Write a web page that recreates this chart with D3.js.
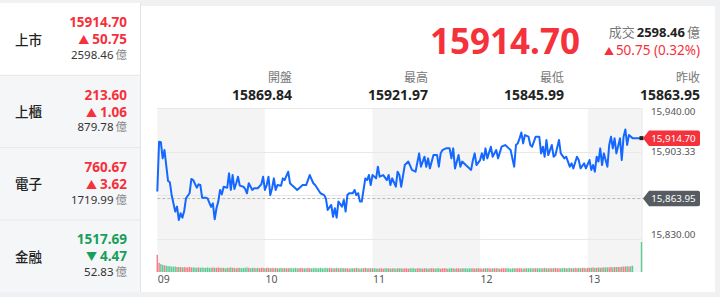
<!DOCTYPE html>
<html>
<head>
<meta charset="utf-8">
<script src="https://cdn.jsdelivr.net/npm/d3@7"></script>
<style>
  body { margin: 0; background: #f0f1f3; }
  svg { display: block; font-family: "Noto Sans", "Noto Sans CJK TC", sans-serif; }
</style>
</head>
<body>
<div id="chart"></div>
<script>
var W = 720, H = 297;
var RED = "#f5313b", GREEN = "#18a05a";

// 左側指數列表
var boardNames = ["上市", "上櫃", "電子", "金融"];
var boardPrices = ["15914.70", "213.60", "760.67", "1517.69"];
var boardChanges = ["50.75", "1.06", "3.62", "4.47"];
var boardUp = [true, true, true, false];
var boardAmounts = ["2598.46", "879.78", "1719.99", "52.83"];

// 上方數值
var lastPrice = 15914.70, prevClose = 15863.95;
var statLabels = ["開盤", "最高", "最低", "昨收"];
var statValues = ["15869.84", "15921.97", "15845.99", "15863.95"];

// 走勢 (09:00 起算分鐘)
var minutes = [0,1,2,3,4,6,7,8,10,11,12,13,14,15,16,18,19,20,22,23,24,25,27,28,30,31,32,33,34,35,
  36,37,39,40,41,42,43,44,45,46,48,49,50,51,53,54,56,58,59,60,61,62,63,64,65,66,67,69,70,71,
  73,74,75,77,78,80,81,83,85,87,88,91,93,94,95,97,98,99,100,101,103,104,105,106,107,109,110,111,112,113,
  114,116,117,118,119,120,122,123,124,126,128,129,130,131,133,134,135,136,138,140,142,144,146,147,149,150,151,152,154,156,
  157,158,159,161,163,164,165,166,168,169,170,172,175,176,177,178,180,181,182,183,184,186,187,189,190,192,194,196,197,199,
  200,201,202,203,204,205,207,208,209,211,213,214,215,216,217,218,220,221,222,224,225,227,228,230,231,232,234,235,236,238,
  239,241,242,243,244,245,246,247,248,249,251,252,253,254,255,256,258,259,260,261,262,263,265,270];
var prices = [15869.84,15911.7,15911.2,15897.7,15904.7,15878.7,15877.6,15867.0,15853.0,15857.2,15845.99,15851.6,15847.9,15853.5,15864.2,15868.4,15880.4,15879.5,15873.1,15875.9,15875.3,15864.7,15864.7,15864.1,15857.0,15859.9,15846.5,15855.8,15861.4,15871.2,
  15867.5,15873.9,15873.1,15885.1,15871.2,15883.7,15872.0,15876.8,15882.3,15874.8,15873.9,15872.0,15868.4,15876.8,15871.2,15872.6,15872.6,15875.9,15882.3,15871.2,15875.3,15882.3,15866.9,15872.6,15880.9,15871.2,15875.3,15874.8,15880.9,15879.5,
  15886.5,15876.8,15875.3,15872.6,15871.2,15873.9,15875.3,15875.3,15883.7,15876.8,15875.3,15868.4,15866.9,15864.1,15854.4,15858.6,15848.7,15855.8,15847.9,15861.4,15857.2,15862.8,15853.0,15866.9,15868.4,15868.4,15871.2,15866.9,15868.4,15861.4,
  15861.4,15880.9,15879.5,15883.7,15875.3,15883.7,15880.9,15890.7,15882.3,15883.7,15879.5,15883.7,15875.3,15880.9,15873.9,15886.5,15883.7,15873.9,15892.1,15895.0,15888.0,15886.5,15901.9,15890.7,15899.1,15890.7,15897.7,15889.3,15900.5,15900.5,
  15890.7,15901.9,15904.7,15906.1,15906.1,15897.7,15906.1,15889.3,15900.5,15890.7,15895.0,15892.1,15888.0,15896.3,15901.9,15892.1,15896.3,15901.9,15896.3,15906.1,15897.7,15907.5,15899.1,15904.7,15897.7,15907.5,15908.9,15906.1,15904.7,15890.7,
  15908.9,15910.3,15914.5,15919.5,15910.3,15917.3,15915.9,15908.9,15907.5,15915.9,15915.9,15901.9,15907.5,15899.1,15913.1,15900.5,15908.9,15899.1,15900.5,15913.1,15901.9,15897.7,15899.1,15890.7,15893.5,15889.3,15899.1,15896.3,15889.3,15893.5,
  15889.3,15896.3,15888.0,15892.1,15886.5,15899.1,15895.0,15906.1,15892.1,15901.9,15890.7,15908.9,15915.9,15906.1,15914.5,15901.9,15914.5,15896.3,15915.9,15921.97,15909.0,15917.3,15914.7,15914.70];

// 每分鐘成交量 (億)
var volumes = [41,22,19,17,16,15,14,14,13,13,13,12,12,12,11,12,11,11,12,11,11,11,10,11,10,11,10,10,11,10,
  10,11,10,10,11,10,10,10,9,10,10,11,10,10,9,10,10,9,10,10,11,10,9,10,10,9,10,9,10,10,
  9,10,10,9,10,9,10,9,9,10,9,10,9,9,10,9,9,10,9,9,10,9,9,9,10,9,9,9,10,9,
  9,10,9,9,10,9,10,9,9,9,10,9,9,10,9,9,9,8,9,9,9,10,9,8,9,9,10,9,9,9,
  9,9,9,8,9,9,8,9,9,9,8,9,9,8,9,9,9,8,9,9,8,9,9,9,8,9,9,9,8,9,
  9,8,9,9,9,8,9,9,8,9,9,9,8,9,9,9,8,9,9,8,9,9,9,8,9,9,9,8,9,9,
  9,8,9,9,9,9,8,9,9,9,9,8,9,9,9,9,9,8,9,9,9,9,9,9,8,9,9,9,9,9,
  9,9,9,9,9,9,10,9,9,9,9,9,10,9,9,9,9,10,9,9,10,9,9,10,9,10,9,10,10,9,
  10,10,10,11,10,10,11,10,11,11,11,11,11,12,11,12,12,12,12,13,13,13,14,13,14,15,0,0,0,0,72];

var hourTicks = [0, 60, 120, 180, 240];
var hourLabels = ["09", "10", "11", "12", "13"];
var gridValues = [15940, 15903.33, 15866.67, 15830];
var axisValues = [15940, 15903.33, 15830];

var svg = d3.select("#chart").append("svg")
    .attr("width", W)
    .attr("height", H);

svg.append("rect").attr("width", W).attr("height", H).attr("fill", "#f0f1f3");

// ---------- 左側列表 ----------
var left = svg.append("g");
boardNames.forEach(function(name, i) {
    var top = 3 + i * 72.3;
    var g = left.append("g").attr("transform", "translate(0," + top + ")");
    g.append("rect")
        .attr("width", 140).attr("height", 72)
        .attr("fill", i === 0 ? "#ffffff" : "#f5f6f8");
    var c = boardUp[i] ? RED : GREEN;
    g.append("text").attr("x", 15).attr("y", 37).attr("dy", "0.35em")
        .attr("font-size", "13.5px").attr("font-weight", 500).attr("fill", "#222")
        .text(name);
    g.append("text").attr("x", 127).attr("y", 19.5).attr("dy", "0.35em")
        .attr("text-anchor", "end").attr("font-size", "13.5px").attr("font-weight", "bold")
        .attr("fill", c).text(boardPrices[i]);
    var ch = g.append("text").attr("x", 127).attr("y", 36.5).attr("dy", "0.35em")
        .attr("text-anchor", "end").attr("font-size", "13.5px").attr("font-weight", "bold")
        .attr("fill", c);
    ch.append("tspan").attr("font-size", "11px").text(boardUp[i] ? "▲" : "▼");
    ch.append("tspan").attr("dx", 3).text(boardChanges[i]);
    var am = g.append("text").attr("x", 127).attr("y", 52).attr("dy", "0.35em")
        .attr("text-anchor", "end").attr("font-size", "11.5px");
    am.append("tspan").attr("fill", "#333").text(boardAmounts[i]);
    am.append("tspan").attr("dx", 2).attr("fill", "#888").text("億");
    if (i > 0) {
        g.append("line").attr("x1", 0).attr("x2", 140).attr("y1", 0).attr("y2", 0)
            .attr("stroke", "#e6e8ec");
    }
});
left.append("line").attr("x1", 140.5).attr("x2", 140.5).attr("y1", 3).attr("y2", 292)
    .attr("stroke", "#e3e5e8");

// ---------- 右側卡片 ----------
svg.append("rect").attr("x", 141).attr("y", 6).attr("width", 574).attr("height", 286)
    .attr("fill", "#ffffff");

svg.append("text").attr("x", 580).attr("y", 42).attr("dy", "0.35em")
    .attr("text-anchor", "end").attr("font-size", "35px").attr("font-weight", "bold")
    .attr("fill", RED).text(d3.format(".2f")(lastPrice));

var vol = svg.append("text").attr("x", 700).attr("y", 32.5).attr("dy", "0.35em")
    .attr("text-anchor", "end").attr("font-size", "13px");
vol.append("tspan").attr("fill", "#777").text("成交");
vol.append("tspan").attr("dx", 2).attr("fill", "#222").attr("font-weight", "bold").text(boardAmounts[0]);
vol.append("tspan").attr("dx", 2).attr("fill", "#777").text("億");

var chg = svg.append("text").attr("x", 700).attr("y", 50).attr("dy", "0.35em")
    .attr("text-anchor", "end").attr("font-size", "13.5px").attr("fill", RED);
chg.append("tspan").attr("font-size", "10px").text("▲");
chg.append("tspan").attr("dx", 2).text("50.75 (0.32%)");

var statRight = [292, 428, 564, 700];
statLabels.forEach(function(lbl, i) {
    svg.append("text").attr("x", statRight[i]).attr("y", 77.5).attr("dy", "0.35em")
        .attr("text-anchor", "end").attr("font-size", "12px").attr("fill", "#777").text(lbl);
    svg.append("text").attr("x", statRight[i]).attr("y", 95).attr("dy", "0.35em")
        .attr("text-anchor", "end").attr("font-size", "14px").attr("font-weight", "bold")
        .attr("fill", "#222").text(statValues[i]);
});

// ---------- 走勢圖 ----------
var x = d3.scaleLinear().domain([0, 270]).range([157.3, 641.5]);
var y = d3.scaleLinear().domain([15830, 15940]).range([239, 108]);
var yv = d3.scaleLinear().domain([0, 72]).range([272, 242]);

// 時段底色
hourTicks.forEach(function(t, i) {
    if (i % 2 === 0) {
        svg.append("rect")
            .attr("x", x(t)).attr("y", 108)
            .attr("width", x(Math.min(t + 60, 270)) - x(t)).attr("height", 164)
            .attr("fill", "#f4f4f4");
    }
});

svg.selectAll(".grid").data(gridValues).enter().append("line")
    .attr("class", "grid")
    .attr("x1", x(0)).attr("x2", x(270))
    .attr("y1", function(d) { return Math.round(y(d)) + 0.5; })
    .attr("y2", function(d) { return Math.round(y(d)) + 0.5; })
    .attr("stroke", "#e8e8e8");

svg.append("line").attr("x1", x(270) + 0.5).attr("x2", x(270) + 0.5)
    .attr("y1", 108).attr("y2", 272).attr("stroke", "#e6e6e6");

// 成交量
svg.selectAll(".vbar").data(volumes).enter().append("rect")
    .attr("class", "vbar")
    .attr("x", function(d, m) { return x(m) - 0.7; })
    .attr("width", 1.4)
    .attr("y", function(d) { return yv(d); })
    .attr("height", function(d) { return yv(0) - yv(d); })
    .attr("fill", function(d, m) {
        var i = d3.bisectLeft(minutes, m);
        if (i >= minutes.length) i = minutes.length - 1;
        var before = i === 0 ? prevClose : prices[i - 1];
        return prices[i] > before ? "#f47c84" : "#5ecb95";
    });

// 昨收虛線
svg.append("line")
    .attr("x1", x(0)).attr("x2", x(270) + 2)
    .attr("y1", y(prevClose)).attr("y2", y(prevClose))
    .attr("stroke", "#b5b5b5").attr("stroke-dasharray", "3,2");

var line = d3.line()
    .x(function(d, i) { return x(minutes[i]); })
    .y(function(d) { return y(d); });

svg.append("path").datum(prices)
    .attr("d", line)
    .attr("fill", "none")
    .attr("stroke", "#1468ff")
    .attr("stroke-width", 2)
    .attr("stroke-linejoin", "round");

svg.append("rect")
    .attr("x", x(270) - 2).attr("y", y(lastPrice) - 2)
    .attr("width", 4).attr("height", 4).attr("fill", "#222");

// Y軸
var yAxis = svg.append("g")
    .attr("transform", "translate(651,0)")
    .call(d3.axisRight(y).tickValues(axisValues).tickSize(0).tickPadding(0)
        .tickFormat(d3.format(",.2f")));
yAxis.select(".domain").remove();
yAxis.selectAll("text")
    .attr("fill", "#555").attr("font-size", "9.8px")
    .attr("font-family", "\"Noto Sans\", sans-serif")
    .attr("dy", function(d) { return d === 15940 ? "0.7em" : d === 15830 ? "-0.15em" : "0.32em"; });

// 價格標籤
function priceTag(v, color) {
    var cy = y(v), x0 = 643, x1 = 700, h = 15.5;
    var g = svg.append("g");
    g.append("path")
        .attr("d", "M" + x0 + "," + cy + "L" + (x0 + 6) + "," + (cy - h / 2) +
            "H" + (x1 - 2) + "Q" + x1 + "," + (cy - h / 2) + " " + x1 + "," + (cy - h / 2 + 2) +
            "V" + (cy + h / 2 - 2) + "Q" + x1 + "," + (cy + h / 2) + " " + (x1 - 2) + "," + (cy + h / 2) +
            "H" + (x0 + 6) + "Z")
        .attr("fill", color);
    g.append("text").attr("x", 673.5).attr("y", cy).attr("dy", "0.35em")
        .attr("text-anchor", "middle").attr("font-size", "9.8px").attr("fill", "#fff")
        .text(d3.format(",.2f")(v));
}
priceTag(prevClose, "#575c63");
priceTag(lastPrice, RED);

// X軸
var xAxis = svg.append("g")
    .attr("transform", "translate(0,272)")
    .call(d3.axisBottom(x).tickValues(hourTicks).tickSize(0).tickPadding(4)
        .tickFormat(function(d, i) { return hourLabels[i]; }));
xAxis.select(".domain").remove();
xAxis.selectAll("text")
    .attr("text-anchor", "start")
    .attr("fill", "#555").attr("font-size", "10.5px")
    .attr("font-family", "\"Noto Sans\", sans-serif");
</script>
</body>
</html>
